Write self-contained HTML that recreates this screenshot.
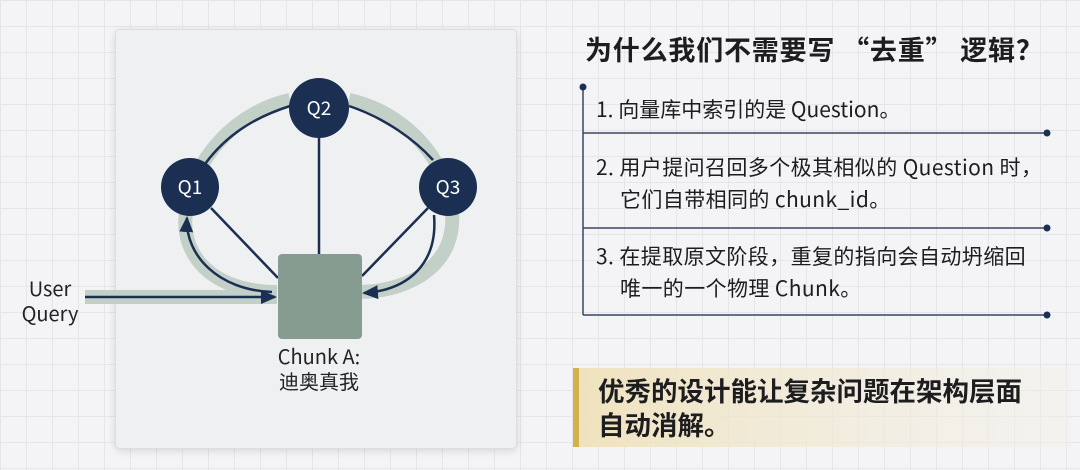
<!DOCTYPE html>
<html><head><meta charset="utf-8"><style>
html,body{margin:0;padding:0}
body{width:1080px;height:470px;overflow:hidden;position:relative;background:#f4f4f6;
background-image:linear-gradient(#e6e6ea 1px,transparent 1px),linear-gradient(90deg,#e6e6ea 1px,transparent 1px);background-size:26px 26px;
font-family:"Noto Sans CJK SC",sans-serif;color:#1d1d1f}
.panel{position:absolute;left:115px;top:29px;width:400px;height:418px;background:#eff0f2;border:1px solid #dcdde2;border-radius:5px;box-shadow:0 2px 8px rgba(0,0,0,.12)}
svg{position:absolute;left:0;top:0}
.t{position:absolute;white-space:nowrap}
</style></head><body>
<div class="panel"></div>
<svg width="1080" height="470" font-family="Noto Sans CJK SC,sans-serif">
<defs>
<marker id="b" markerWidth="16" markerHeight="16" refX="14" refY="8" orient="auto" markerUnits="userSpaceOnUse" viewBox="0 0 16 16"><path d="M0,1 L16,8 L0,15 Z" fill="#1b2f52"/></marker></defs>
<g fill="none" stroke="#c3d0c8" stroke-width="14">
<path d="M85,297 L277,297"/>
<path d="M277,292 C212,292 180,255 186,212 C192,160 235,112 290,100 M349,100 C405,112 448,160 452,212 C456,262 415,290 362,292"/>
</g>
<g fill="none" stroke="#1b2f52" stroke-width="2.5">
<path d="M85,297 L275,297" marker-end="url(#b)"/>
<path d="M272,292 C218,290 185,255 187,218" marker-end="url(#b)"/>
<path d="M434,215 C438,262 410,290 364,293" marker-end="url(#b)"/>
<path d="M205,164 C230,130 262,115 290,106"/>
<path d="M349,106 C385,118 415,140 433,160"/>
<line x1="319" y1="138" x2="319" y2="254"/>
<line x1="211" y1="208" x2="278" y2="278"/>
<line x1="428" y1="208" x2="362" y2="276"/>
</g>
<rect x="278" y="254" width="84" height="85" rx="4" fill="#879c90"/>
<circle cx="319" cy="108" r="30" fill="#1b2f52"/>
<circle cx="190" cy="187" r="29" fill="#1b2f52"/>
<circle cx="448" cy="187" r="29" fill="#1b2f52"/>
<g fill="#fff" font-size="19" text-anchor="middle">
<text x="319" y="115">Q2</text><text x="190" y="194">Q1</text><text x="448" y="194">Q3</text></g>
<g font-size="20" text-anchor="middle" fill="#222">
<text x="50" y="296">User</text><text x="50" y="321">Query</text>
<text x="319" y="364">Chunk A:</text><text x="319" y="389">迪奥真我</text></g>
<g stroke="#3a4660" stroke-width="1.5">
<line x1="583" y1="87" x2="583" y2="315"/>
<line x1="583" y1="133" x2="1047" y2="133"/>
<line x1="583" y1="228" x2="1047" y2="228"/>
<line x1="583" y1="315" x2="1047" y2="315"/></g>
<g fill="#1b2f52"><circle cx="583" cy="87" r="3.5"/><circle cx="1047" cy="133" r="3.5"/><circle cx="1047" cy="228" r="3.5"/><circle cx="1047" cy="315" r="3.5"/></g>
<defs><linearGradient id="g" x1="0" x2="1"><stop offset="0" stop-color="#efe2bd"/><stop offset="1" stop-color="#f3efe6" stop-opacity=".4"/></linearGradient></defs>
<rect x="573" y="368" width="497" height="79" fill="url(#g)"/>
<rect x="573" y="368" width="6" height="79" fill="#d2b04e"/>
</svg>
<div class="t" style="left:585px;top:29px;font-size:27px;font-weight:bold;line-height:40px;letter-spacing:0.8px">为什么我们不需要写 “去重” 逻辑？</div>
<div class="t" style="left:596px;top:93px;font-size:21px;line-height:32px">1. 向量库中索引的是 Question。</div>
<div class="t" style="left:596px;top:151px;font-size:21px;line-height:32px;letter-spacing:0.4px">2. 用户提问召回多个极其相似的 Question 时，<br><span style="padding-left:24px">它们自带相同的 chunk_id。</span></div>
<div class="t" style="left:596px;top:240px;font-size:21px;line-height:32px;letter-spacing:0.4px">3. 在提取原文阶段，重复的指向会自动坍缩回<br><span style="padding-left:24px">唯一的一个物理 Chunk。</span></div>
<div class="t" style="left:598px;top:373px;font-size:26.5px;font-weight:bold;line-height:34px">优秀的设计能让复杂问题在架构层面<br>自动消解。</div>
</body></html>
